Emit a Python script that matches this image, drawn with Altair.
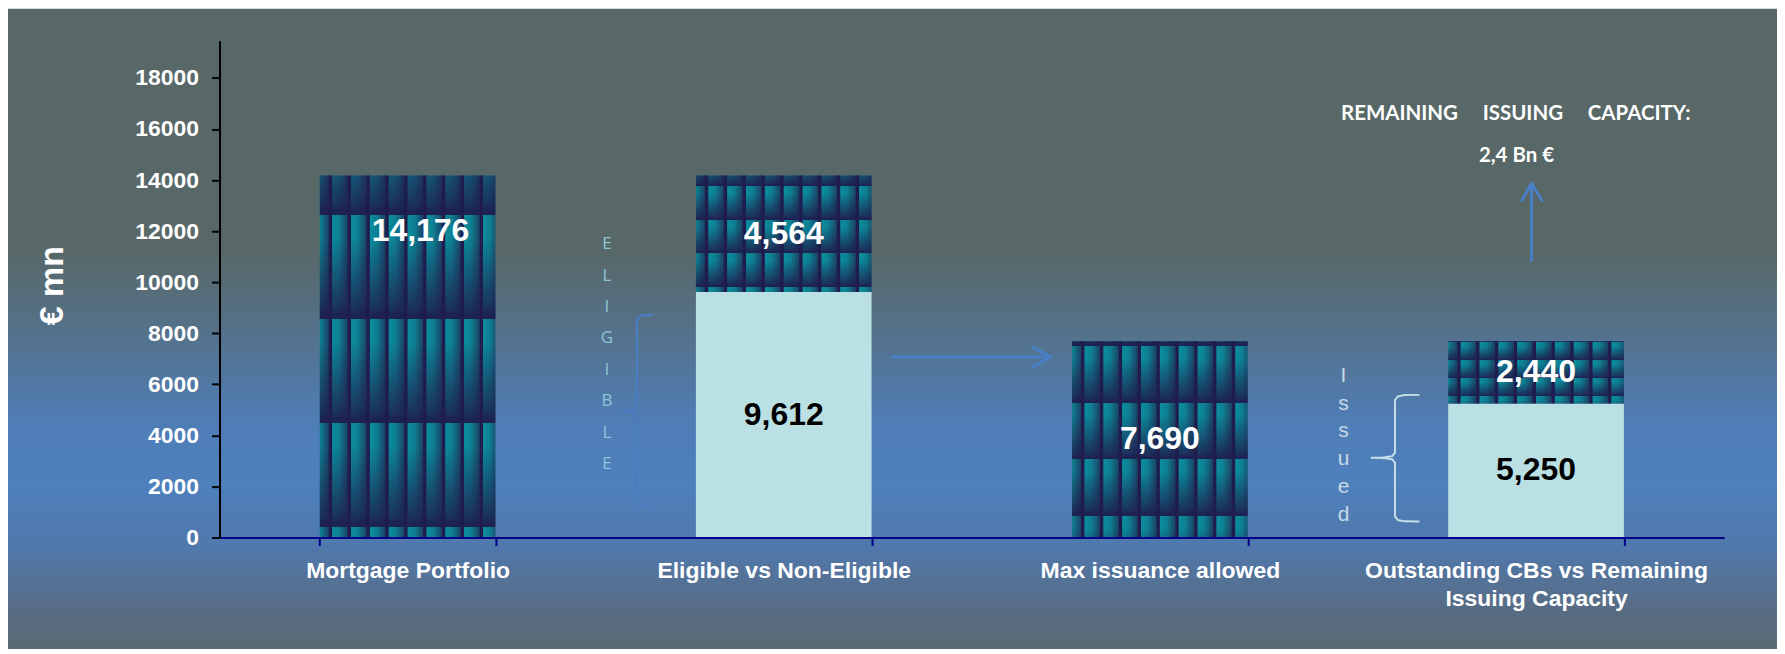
import altair as alt
import numpy as np
import pandas as pd

# ---------------- data ----------------
categories = [
    "Mortgage Portfolio",
    "Eligible vs Non-Eligible",
    "Max issuance allowed",
    "Outstanding CBs vs Remaining Issuing Capacity",
]
light_values = [0, 9612, 0, 5250]            # eligible / issued part (light segment)
pattern_values = [14176, 4564, 7690, 2440]   # textured segment stacked on top
y_tick_values = [0, 2000, 4000, 6000, 8000, 10000, 12000, 14000, 16000, 18000]
Y_MAX = 19460
Y_TITLE = "€ mn"

capacity_title = "REMAINING\u00a0\u00a0\u00a0\u00a0\u00a0ISSUING\u00a0\u00a0\u00a0\u00a0\u00a0CAPACITY:"
capacity_value = "2,4 Bn €"
eligible_letters = list("ELIGIBLE")
issued_letters = list("Issued")

# annotation geometry: x in category-band units (0..4), y in € mn
eligible_text_x, eligible_text_y0, eligible_text_step = 1.030, 11292, 1230
issued_text_x, issued_text_y0, issued_text_step = 2.988, 6107, 1094
capacity_title_pos = (3.446, 16359)
capacity_value_pos = (3.448, 14703)
flow_arrow = [(1.790, 7072), (2.2096, 7072)]
flow_head = [(2.162, 7463), (2.2096, 7072), (2.162, 6681)]
capacity_arrow = [(3.488, 10862), (3.488, 13871)]
capacity_head = [(3.462, 13206), (3.488, 13871), (3.515, 13206)]
# brace: vertical x, hook-end x, tip x, top y, bottom y, tip y, curl
eligible_brace = (1.1096, 1.151, 1.069, 8713, 1211, 4962, 230)
issued_brace = (3.125, 3.188, 3.061, 5587, 625, 3126, 200)

# ---------------- styles ----------------
FONT = "Liberation Sans"
LIGHT_FILL = "#BBE0E3"
ARROW_COLOR = "#4A7FC7"
NAVY = (30, 29, 78)


def rgba(c):
    if len(c) == 3 or c[3] >= 1:
        return "#%02x%02x%02x" % tuple(int(round(v)) for v in c[:3])
    return "rgba(%d,%d,%d,%.3f)" % (round(c[0]), round(c[1]), round(c[2]), c[3])


def interp_key(keys, u):
    for j in range(len(keys) - 1):
        u0, c0 = keys[j]
        u1, c1 = keys[j + 1]
        if u0 <= u <= u1:
            f = 0 if u1 == u0 else (u - u0) / (u1 - u0)
            return tuple(a + (b - a) * f for a, b in zip(c0, c1))
    return keys[-1][1]


def periodic_stops(keys, period, phase):
    col_at = lambda t: interp_key(keys, ((t - phase) / period) % 1.0)
    stops = [(0.0, col_at(0.0))]
    kmin = int(np.floor((0 - phase) / period)) - 1
    kmax = int(np.ceil((1 - phase) / period)) + 1
    for k in range(kmin, kmax + 1):
        for u, c in keys:
            t = phase + (k + u) * period
            if 0 < t < 1:
                stops.append((t, c))
    stops.append((1.0, col_at(1.0)))
    return [alt.GradientStop(offset=round(t, 4), color=rgba(c)) for t, c in stops]


stripe_keys = [
    (0.0, NAVY), (0.12, NAVY), (0.17, (11, 141, 157)),
    (0.5, (13, 128, 146)), (0.93, (26, 72, 106)), (1.0, NAVY),
]
stripe_grad = alt.Gradient(
    gradient="linear", x1=0, y1=0, x2=1, y2=0,
    stops=periodic_stops(stripe_keys, 0.1073, 0.055),
)
row_keys = [
    (0.0, NAVY + (0.0,)), (0.22, NAVY + (0.0,)), (0.6, NAVY + (0.45,)),
    (0.9, NAVY + (0.8,)), (0.95, NAVY + (0.92,)), (1.0, NAVY + (0.95,)),
]
row_phase = [0.108, 0.09, 0.025, 0.02]

bg_keys = [
    (0.0, (88, 104, 103)), (0.38, (88, 104, 104)), (0.51, (84, 114, 140)),
    (0.645, (79, 125, 182)), (0.74, (78, 128, 188)), (0.84, (80, 120, 172)),
    (0.94, (88, 108, 130)), (1.0, (90, 106, 116)),
]
bg_grad = alt.Gradient(
    gradient="linear", x1=0, y1=0, x2=0, y2=1,
    stops=[alt.GradientStop(offset=u, color=rgba(c)) for u, c in bg_keys],
)

# ---------------- tables ----------------
rows = []
for i, c in enumerate(categories):
    lo, hi = light_values[i], pattern_values[i]
    if lo:
        rows.append(dict(category=c, kind="light", start=0, end=lo, label=f"{lo:,}"))
    rows.append(dict(category=c, kind="pattern", start=lo, end=lo + hi, label=f"{hi:,}"))
seg = pd.DataFrame(rows)
seg["mid"] = (seg["start"] + seg["end"]) / 2

xscale = alt.Scale(domain=categories, paddingInner=0.533, paddingOuter=0.2665)
yscale = alt.Scale(domain=[0, Y_MAX], nice=False, zero=True)

x_axis = alt.Axis(
    title=None, labelAngle=0, labelFont=FONT, labelFontSize=23, labelFontWeight="bold",
    labelColor="white", labelPadding=14, labelLimit=600, labelLineHeight=28,
    labelBaseline="top", labelOverlap=False,
    labelExpr="datum.label == 'Outstanding CBs vs Remaining Issuing Capacity' ? "
              "['Outstanding CBs vs Remaining', 'Issuing Capacity'] : datum.label",
    domainColor="#00008B", domainWidth=2, tickColor="#00008B", tickWidth=2, tickSize=8,
    tickBand="extent", grid=False, zindex=1,
)
y_axis = alt.Axis(
    title=Y_TITLE, values=y_tick_values, format="d", grid=False,
    labelFont=FONT, labelFontSize=23, labelFontWeight="bold", labelColor="white",
    labelPadding=13, domainColor="black", domainWidth=2, tickColor="black",
    tickWidth=2, tickSize=8, zindex=1,
    titleFont=FONT, titleFontSize=34, titleFontWeight="bold", titleColor="white",
    titleAngle=270, titleX=-157, titleY=245, titleAlign="center",
    titleBaseline="alphabetic",
)


def xenc():
    return alt.X("category:N", sort=categories, scale=xscale, axis=x_axis)


def yenc(field):
    return alt.Y(field, scale=yscale, axis=y_axis)


base = alt.Chart(seg)

light_bars = base.transform_filter("datum.kind == 'light'").mark_bar(
    fill=LIGHT_FILL, strokeWidth=0
).encode(x=xenc(), y=yenc("end:Q"), y2="start:Q")
tex_bars = base.transform_filter("datum.kind == 'pattern'").mark_bar(
    fill=stripe_grad, strokeWidth=0
).encode(x=xenc(), y=yenc("end:Q"), y2="start:Q")

row_layers = []
for i, c in enumerate(categories):
    g = alt.Gradient(gradient="linear", x1=0, y1=0, x2=0, y2=1,
                     stops=periodic_stops(row_keys, 0.288, row_phase[i]))
    row_layers.append(
        base.transform_filter(
            alt.FieldEqualPredicate(field="category", equal=c)
        ).transform_filter("datum.kind == 'pattern'").mark_bar(
            fill=g, strokeWidth=0
        ).encode(x=xenc(), y=yenc("end:Q"), y2="start:Q")
    )

label_common = dict(font=FONT, fontSize=32, fontWeight="bold", align="center", baseline="middle")
tex_labels = base.transform_filter(
    "datum.kind == 'pattern' && datum.category != 'Mortgage Portfolio'"
).mark_text(color="white", **label_common).encode(x=xenc(), y=yenc("mid:Q"), text="label:N")
first_label = base.transform_filter(
    "datum.kind == 'pattern' && datum.category == 'Mortgage Portfolio'"
).mark_text(color="white", dx=13, dy=-126, **label_common).encode(
    x=xenc(), y=yenc("mid:Q"), text="label:N"
)
light_labels = base.transform_filter("datum.kind == 'light'").mark_text(
    color="black", **label_common
).encode(x=xenc(), y=yenc("mid:Q"), text="label:N")

bars_group = alt.layer(light_bars, tex_bars, *row_layers, tex_labels, first_label, light_labels)

# ---------------- annotations (own scales, same y domain, no axes) ----------------
bxscale = alt.Scale(domain=[0, 4], nice=False, zero=False)


def bx():
    return alt.X("bx:Q", scale=bxscale, axis=None)


def by():
    return alt.Y("y:Q", scale=yscale, axis=None)


def path_df(name, pts):
    return pd.DataFrame([dict(name=name, i=k, bx=p[0], y=p[1]) for k, p in enumerate(pts)])


def brace_pts(xv, xh, xt, yt, yb, ym, r):
    d, e = xh - xv, xv - xt
    return [
        (xh, yt), (xv + 0.4 * d, yt - 0.04 * r), (xv + 0.12 * d, yt - 0.3 * r), (xv, yt - r),
        (xv, ym + r), (xv - 0.12 * e, ym + 0.3 * r), (xv - 0.5 * e, ym + 0.06 * r), (xt, ym),
        (xv - 0.5 * e, ym - 0.06 * r), (xv - 0.12 * e, ym - 0.3 * r), (xv, ym - r),
        (xv, yb + r), (xv + 0.12 * d, yb + 0.3 * r), (xv + 0.4 * d, yb + 0.04 * r), (xh, yb),
    ]


arrows_df = pd.concat([
    path_df("flow", flow_arrow), path_df("flow_head", flow_head),
    path_df("cap", capacity_arrow), path_df("cap_head", capacity_head),
])
arrows = alt.Chart(arrows_df).mark_line(
    color=ARROW_COLOR, strokeWidth=3, strokeCap="round", strokeJoin="round"
).encode(x=bx(), y=by(), detail="name:N", order="i:Q")

brace_e = alt.Chart(path_df("eligible", brace_pts(*eligible_brace))).mark_line(
    color="#4A7CC0", strokeWidth=2.4, strokeCap="round"
).encode(x=bx(), y=by(), order="i:Q")
brace_i = alt.Chart(path_df("issued", brace_pts(*issued_brace))).mark_line(
    color="#C4DEE7", strokeWidth=2, strokeCap="round"
).encode(x=bx(), y=by(), order="i:Q")

elig_df = pd.DataFrame(dict(
    t=eligible_letters, bx=eligible_text_x,
    y=[eligible_text_y0 - k * eligible_text_step for k in range(len(eligible_letters))],
))
letters_e = alt.Chart(elig_df).mark_text(
    font="Open Sans", fontSize=17, color="#8DC5D8", align="center", baseline="alphabetic"
).encode(x=bx(), y=by(), text="t:N")

iss_df = pd.DataFrame(dict(
    t=issued_letters, bx=issued_text_x,
    y=[issued_text_y0 - k * issued_text_step for k in range(len(issued_letters))],
))
letters_i = alt.Chart(iss_df).mark_text(
    font=FONT, fontSize=21, color="#C9D9E6", align="center", baseline="alphabetic"
).encode(x=bx(), y=by(), text="t:N")

cap_df = pd.DataFrame(dict(
    t=[capacity_title, capacity_value],
    bx=[capacity_title_pos[0], capacity_value_pos[0]],
    y=[capacity_title_pos[1], capacity_value_pos[1]],
))
cap_text = alt.Chart(cap_df).mark_text(
    font="Lato", fontSize=20.5, fontWeight="bold", color="white",
    align="center", baseline="alphabetic"
).encode(x=bx(), y=by(), text="t:N")

annot_group = alt.layer(arrows, brace_e, brace_i, letters_e, letters_i, cap_text)

# ---------------- background ----------------
background = alt.Chart(pd.DataFrame({"a": [0]})).mark_rect(fill=bg_grad, strokeWidth=0).encode(
    x=alt.value(-212), x2=alt.value(1561), y=alt.value(-32), y2=alt.value(611)
)

chart = alt.layer(background, bars_group, annot_group).resolve_scale(
    x="independent", y="independent"
).properties(
    width=1508, height=498,
    padding={"left": 212, "top": 32, "right": 53, "bottom": 111},
    autosize=alt.AutoSizeParams(type="none"),
    background="white",
).configure_view(stroke=None).configure(font=FONT)

chart.save("out.html", embed_options={"renderer": "svg", "actions": False})
